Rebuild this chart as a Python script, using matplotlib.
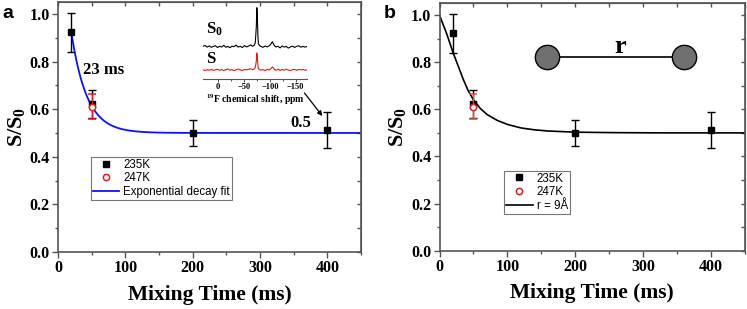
import numpy as np
import matplotlib
matplotlib.use("Agg")
import matplotlib.pyplot as plt

plt.rcParams["font.family"] = "Liberation Serif"
plt.rcParams["font.weight"] = "bold"
plt.rcParams["axes.labelweight"] = "bold"
plt.rcParams["mathtext.fontset"] = "custom"
plt.rcParams["mathtext.rm"] = "Liberation Serif:bold"
plt.rcParams["mathtext.it"] = "Liberation Serif:bold"
plt.rcParams["mathtext.bf"] = "Liberation Serif:bold"

SPINE = "#555555"
RED = "#d42020"

# ── data ─────────────────────────────────────────────────────────────────────
t_235 = [20, 50, 200, 400]
s_235 = [0.922, 0.622, 0.501, 0.512]
e_235 = [0.083, 0.058, 0.055, 0.075]

t_247 = [50]
s_247 = [0.611]
e_247 = [0.053]

# exponential decay fit (panel a)
FIT_TAU = 23.0
FIT_PLATEAU = 0.5
FIT_AMP = 1.0
FIT_T0, FIT_T1 = 20, 450

# theory curve r = 9 Å (panel b)
t_r9 = [0, 5, 10, 15, 20, 28, 35, 42, 50, 60, 70, 85, 100, 120, 140, 160, 200, 260, 330, 450]
s_r9 = [1.0, 0.962, 0.925, 0.883, 0.84, 0.78, 0.727, 0.68, 0.64, 0.604, 0.578, 0.553, 0.536,
        0.521, 0.513, 0.508, 0.503, 0.501, 0.5, 0.5]

# inset 19F spectra (ppm, intensity above baseline in arbitrary units)
ppm = [29, 25, 21, 17, 13, 9, 5, 1, -3, -7, -11, -15, -19, -23, -27, -31, -35, -39, -43,
       -47, -51, -55, -59, -63, -67, -70, -72, -74, -75, -76, -77, -78, -80, -83, -87, -91,
       -95, -99, -102, -105, -107, -109, -112, -116, -120, -124, -128, -132, -136, -140,
       -144, -148, -152, -156, -160, -164, -168, -172]
spec_s0 = [0.5, 1.2, -0.4, 0.8, -0.6, 0.3, 1.0, -0.8, 0.4, -0.3, 1.4, -0.5, 0.2, -1.0, 0.6,
           0.1, 1.6, -0.4, 0.5, -0.9, 1.1, -0.2, 0.6, 1.8, 0.4, 1.5, 4.0, 20.0, 39.0, 30.0,
           12.0, 3.0, 1.2, 0.2, -0.6, 0.7, -0.2, 0.9, 2.5, 5.0, 3.0, 1.0, -0.3, 0.4, -1.2,
           0.8, -0.4, 0.3, -1.4, -0.2, 0.6, -0.7, 0.4, 0.9, -0.5, 0.3, -0.4, 0.2]
spec_s = [0.3, -0.6, 0.4, -0.2, 0.7, -0.4, 0.2, 0.8, -0.3, 0.5, -0.5, 0.3, 1.0, -0.2, 0.4,
          -0.6, 0.2, 0.9, 0.1, -0.4, 0.5, 0.2, 0.7, 1.2, 0.3, 1.0, 2.5, 9.0, 17.0, 13.0,
          5.0, 1.5, 0.6, -0.2, 0.4, -0.5, 0.6, 0.2, 1.2, 3.0, 2.2, 0.6, -0.3, 0.8, -0.4,
          0.5, -0.2, 0.9, 0.0, -0.5, 0.4, 0.6, -0.3, 0.5, 0.1, 0.6, -0.2, 0.3]
S0_BASE, S_BASE = 32.3, 9.0


def style_axes(ax):
    ax.set_xlim(0, 450)
    ax.set_ylim(0, 1.05)
    ax.set_xticks([0, 100, 200, 300, 400])
    ax.set_xticks([50, 150, 250, 350, 450], minor=True)
    ax.set_yticks([0.0, 0.2, 0.4, 0.6, 0.8, 1.0])
    ax.set_yticks([0.1, 0.3, 0.5, 0.7, 0.9], minor=True)
    ax.set_yticklabels(["0.0", "0.2", "0.4", "0.6", "0.8", "1.0"])
    ax.tick_params(which="major", direction="out", length=4, width=1, color=SPINE,
                   labelsize=11.5, pad=2)
    ax.tick_params(which="minor", direction="out", length=2.5, width=1, color=SPINE)
    for sp in ax.spines.values():
        sp.set_color(SPINE)
        sp.set_linewidth(1.2)
    top = ax.secondary_xaxis("top")
    top.set_xticks(np.arange(0, 451, 50))
    top.tick_params(direction="in", length=3, width=1, color=SPINE, labeltop=False)
    top.spines["top"].set_color(SPINE)
    right = ax.secondary_yaxis("right")
    right.set_yticks(np.arange(0, 1.05, 0.1))
    right.tick_params(direction="in", length=3, width=1, color=SPINE, labelright=False)
    right.spines["right"].set_color(SPINE)
    ax.set_xlabel("Mixing Time (ms)", fontsize=15.5, fontweight="bold", labelpad=6)
    ax.set_ylabel(r"$S/S_0$", fontsize=16, labelpad=2)


def legend_handles(ax, names):
    h, l = ax.get_legend_handles_labels()
    out = []
    for name in names:
        hh = h[l.index(name)]
        out.append(hh[0] if isinstance(hh, tuple) else hh)
    return out


def make_legend(ax, names, anchor):
    leg = ax.legend(legend_handles(ax, names), names, loc="upper left",
                    bbox_to_anchor=anchor,
                    prop={"family": "Liberation Sans", "size": 8.3, "weight": "normal"},
                    fancybox=False, edgecolor="#777777", framealpha=1, borderpad=0.15,
                    handlelength=2.3, handletextpad=0.35, labelspacing=0.15,
                    borderaxespad=0)
    leg.get_frame().set_linewidth(0.8)
    return leg


fig = plt.figure(figsize=(7.47, 3.09), dpi=100)

# ── panel a ──────────────────────────────────────────────────────────────────
ax1 = fig.add_axes([0.0776, 0.1845, 0.4057, 0.809])
style_axes(ax1)
t_fit = np.linspace(FIT_T0, FIT_T1, 300)
ax1.plot(t_fit, FIT_PLATEAU + FIT_AMP * np.exp(-t_fit / FIT_TAU), color="#1010ff", lw=1.3,
         label="Exponential decay fit", zorder=2)
ax1.errorbar(t_235, s_235, yerr=e_235, fmt="s", color="black", ms=4.5, capsize=3,
             elinewidth=1, capthick=1, label="235K", zorder=3)
ax1.errorbar(t_247, s_247, yerr=e_247, fmt="o", color=RED, mfc="white", mec=RED, ms=4.5,
             mew=1.1, capsize=3, elinewidth=1, capthick=1, label="247K", zorder=4)
ax1.text(37, 0.765, "23 ms", fontsize=12, ha="left", va="center")
ax1.text(360, 0.54, "0.5", fontsize=12, ha="center", va="center")
ax1.annotate("", xy=(392.6, 0.571), xytext=(366, 0.668),
             arrowprops=dict(arrowstyle="-|>", color="black", lw=0.9, mutation_scale=7,
                             shrinkA=0, shrinkB=0))
make_legend(ax1, ["235K", "247K", "Exponential decay fit"], (0.109, 0.38))

# inset spectra
axi = fig.add_axes([0.2718, 0.7443, 0.1392, 0.2427])
axi.plot(ppm, [S0_BASE + v for v in spec_s0], color="black", lw=0.8)
axi.plot(ppm, [S_BASE + v for v in spec_s], color=RED, lw=0.8)
axi.set_xlim(29, -172)
axi.set_ylim(0, 75)
axi.patch.set_alpha(0)
for side in ["top", "left", "right"]:
    axi.spines[side].set_visible(False)
axi.spines["bottom"].set_color(SPINE)
axi.spines["bottom"].set_linewidth(0.8)
axi.set_yticks([])
axi.set_xticks([0, -50, -100, -150])
axi.set_xticks([-25, -75, -125], minor=True)
axi.tick_params(axis="x", which="major", direction="out", length=2, width=0.7,
                color=SPINE, labelsize=6, pad=1)
axi.tick_params(axis="x", which="minor", direction="out", length=1.2, width=0.7,
                color=SPINE)
axi.set_xlabel(r"$^{19}$F chemical shift, ppm", fontsize=7, labelpad=1)
axi.text(23, 45, r"$S_0$", fontsize=12, ha="left", va="baseline")
axi.text(23, 16, "S", fontsize=12, ha="left", va="baseline")

# ── panel b ──────────────────────────────────────────────────────────────────
ax2 = fig.add_axes([0.5884, 0.1887, 0.4089, 0.8006])
style_axes(ax2)
ax2.plot(t_r9, s_r9, color="black", lw=1.2, label="r = 9Å", zorder=2)
ax2.errorbar(t_235, s_235, yerr=e_235, fmt="s", color="black", ms=4.5, capsize=3,
             elinewidth=1, capthick=1, label="235K", zorder=3)
ax2.errorbar(t_247, s_247, yerr=e_247, fmt="o", color="#e05050", mfc="white",
             mec=RED, ms=4.5, mew=1.1, capsize=3, elinewidth=1, capthick=1,
             label="247K", zorder=4)
make_legend(ax2, ["235K", "247K", "r = 9Å"], (0.212, 0.323))

# two-spin diagram
ax2.plot([0.353, 0.801], [0.784, 0.784], transform=ax2.transAxes, color="black", lw=1.2,
         marker="o", ms=17.5, mfc="#707070", mec="black", mew=1.0, zorder=5)
ax2.text(0.591, 0.798, "r", transform=ax2.transAxes, fontsize=19, ha="center",
         va="baseline")

# panel letters
fig.text(0.003, 0.985, "a", family="Liberation Sans", weight="bold", fontsize=14,
         va="top", ha="left")
fig.text(0.513, 0.985, "b", family="Liberation Sans", weight="bold", fontsize=14,
         va="top", ha="left")

fig.savefig("out.png", dpi=100)
